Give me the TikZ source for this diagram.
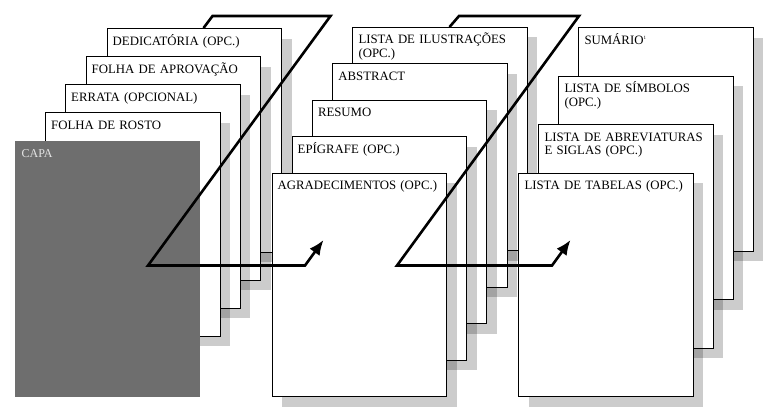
\documentclass[tikz,border=0pt]{standalone}
\usepackage{fontspec}
\setmainfont{Liberation Serif}
\usepackage{xcolor}
\usepackage{tikz}
\usetikzlibrary{arrows.meta}
\usetikzlibrary{positioning}
\usetikzlibrary{shadows}
\definecolor{capacinza}{HTML}{6E6E6E}
\definecolor{capatexto}{HTML}{E4E4E4}
\tikzset{>={Latex[length=15pt,width=12.5pt]}}
\tikzstyle{folha} = [rectangle, draw, fill=white, line width=1pt, anchor=north west, inner sep=0pt, minimum width=174.5pt, minimum height=223.5pt, drop shadow={shadow xshift=10pt, shadow yshift=-10pt, fill=black, opacity=0.2}]
\tikzstyle{rotulo} = [anchor=base west, inner sep=0pt, text width=168pt, align=left, font=\fontsize{12.8}{13.6}\selectfont]
\tikzstyle{seta} = [->, line width=2.6pt]

\begin{document}
\begin{tikzpicture}[x=1pt, y=-1pt]
\useasboundingbox (0,0) rectangle (770,407);

\node [folha] (dedicatoria) at (106.5,28) {};
\node [rotulo] (tdedicatoria) at ([shift={(6,17)}]dedicatoria.north west) {DEDICATÓRIA (OPC.)};
\node [folha] (aprovacao) at (85.5,56) {};
\node [rotulo] (taprovacao) at ([shift={(6,17)}]aprovacao.north west) {FOLHA DE APROVAÇÃO};
\node [folha] (errata) at (65,84) {};
\node [rotulo] (terrata) at ([shift={(6,17)}]errata.north west) {ERRATA (OPCIONAL)};
\node [folha] (rosto) at (45,112) {};
\node [rotulo] (trosto) at ([shift={(6,17)}]rosto.north west) {FOLHA DE ROSTO};
\node [rectangle, fill=capacinza, anchor=north west, inner sep=0pt, minimum width=185pt, minimum height=256pt] (capa) at (15,141) {};
\node [rotulo, text=capatexto, font=\fontsize{12}{13}\selectfont] (tcapa) at ([shift={(6.5,16)}]capa.north west) {CAPA};

\node [folha] (ilustracoes) at (352.3,26.8) {};
\node [rotulo] (tilustracoes) at ([shift={(6,17)}]ilustracoes.north west) {LISTA DE ILUSTRAÇÕES\\(OPC.)};
\node [folha] (abstract) at (332.2,63) {};
\node [rotulo] (tabstract) at ([shift={(6,17)}]abstract.north west) {ABSTRACT};
\node [folha] (resumo) at (311.8,99.5) {};
\node [rotulo] (tresumo) at ([shift={(6,17)}]resumo.north west) {RESUMO};
\node [folha] (epigrafe) at (291.5,136) {};
\node [rotulo] (tepigrafe) at ([shift={(6,17)}]epigrafe.north west) {EPÍGRAFE (OPC.)};
\node [folha] (agradecimentos) at (271.5,172.7) {};
\node [rotulo] (tagradecimentos) at ([shift={(6,17)}]agradecimentos.north west) {AGRADECIMENTOS (OPC.)};

\node [folha] (sumario) at (578.3,27.3) {};
\node [rotulo] (tsumario) at ([shift={(6,17)}]sumario.north west) {SUMÁRIO\textsuperscript{\tiny 1}};
\node [folha] (simbolos) at (558.3,75.8) {};
\node [rotulo] (tsimbolos) at ([shift={(6,17)}]simbolos.north west) {LISTA DE SÍMBOLOS\\(OPC.)};
\node [folha] (abreviaturas) at (538.3,124.2) {};
\node [rotulo] (tabreviaturas) at ([shift={(6,17)}]abreviaturas.north west) {LISTA DE ABREVIATURAS\\E SIGLAS (OPC.)};
\node [folha] (tabelas) at (518.3,172.7) {};
\node [rotulo] (ttabelas) at ([shift={(6,17)}]tabelas.north west) {LISTA DE TABELAS (OPC.)};

\coordinate (a1) at (203.5,28);
\coordinate (b1) at (212.5,16);
\coordinate (c1) at (330.5,16);
\coordinate (d1) at (148,265.5);
\coordinate (e1) at (305,265.5);
\coordinate (f1) at (323.5,240);
\draw [seta] (a1) -- (b1) -- (c1) -- (d1) -- (e1) -- (f1);

\coordinate (a2) at (449.5,27);
\coordinate (b2) at (459,16);
\coordinate (c2) at (579,16);
\coordinate (d2) at (397,265.5);
\coordinate (e2) at (552,265.5);
\coordinate (f2) at (570.5,240);
\draw [seta] (a2) -- (b2) -- (c2) -- (d2) -- (e2) -- (f2);
\end{tikzpicture}
\end{document}
